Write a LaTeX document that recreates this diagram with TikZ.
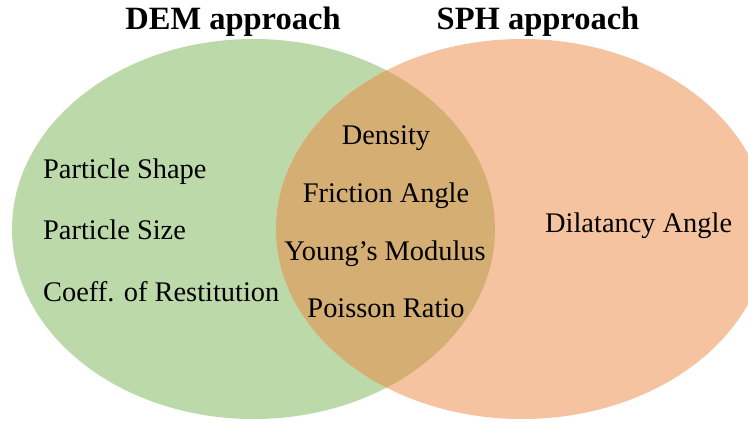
\documentclass[tikz,border=0pt]{standalone}
\usepackage{fontspec}
\setmainfont{Liberation Serif}
\definecolor{demgreen}{RGB}{188,217,170}
\definecolor{sphpeach}{RGB}{246,195,160}
\definecolor{overlap}{RGB}{213,174,115}
\begin{document}
\begin{tikzpicture}[x=1pt,y=-1pt,
  item/.style={inner sep=0pt,font=\fontsize{28.4}{34}\selectfont,text=black},
  heading/.style={inner sep=0pt,font=\fontsize{32.5}{38}\selectfont\bfseries,text=black}]
\clip (0,0) rectangle (748,421);
\useasboundingbox (0,0) rectangle (748,421);
\fill[white] (0,0) rectangle (748,421);
% ellipses
\fill[demgreen] (253.5,229) ellipse [x radius=241.5, y radius=190];
\fill[sphpeach] (522,229) ellipse [x radius=246, y radius=190];
\begin{scope}
  \clip (253.5,229) ellipse [x radius=241.5, y radius=190];
  \fill[overlap] (522,229) ellipse [x radius=246, y radius=190];
\end{scope}
% headings
\node[heading,anchor=base] (dem) at (233,29) {DEM approach};
\node[heading,anchor=base] (sph) at (538,29) {SPH approach};
% DEM only
\node[item,anchor=base west] (shape) at (43,178) {Particle Shape};
\node[item,anchor=base west] (size) at (43,239) {Particle Size};
\node[item,anchor=base west] (coeff) at (43,301) {Coeff. of Restitution};
% common
\node[item,anchor=base] (density) at (386,144) {Density};
\node[item,anchor=base] (friction) at (386,202) {Friction Angle};
\node[item,anchor=base] (young) at (385,260) {Young’s Modulus};
\node[item,anchor=base] (poisson) at (386,317) {Poisson Ratio};
% SPH only
\node[item,anchor=base west] (dilat) at (545,232) {Dilatancy Angle};
\end{tikzpicture}
\end{document}
